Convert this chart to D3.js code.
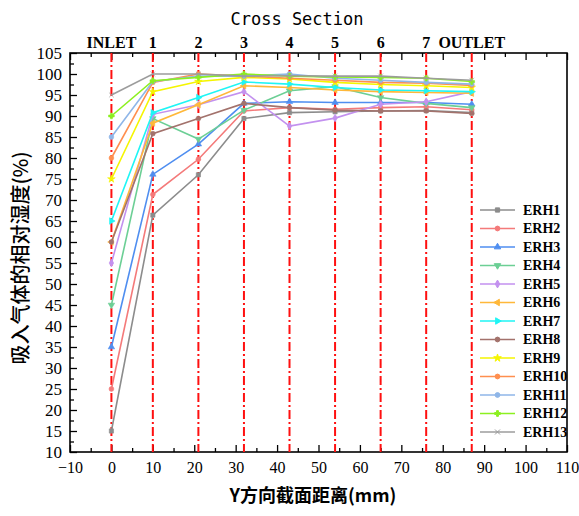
<!DOCTYPE html>
<html>
<head>
<meta charset="utf-8">
<script src="https://cdn.jsdelivr.net/npm/d3@7"></script>
<style>
  body { margin: 0; background: #fff; }
  svg { display: block; }
</style>
</head>
<body>
<div id="chart"></div>
<script>
// section positions along Y (mm) and their names
const sections = [0, 10, 21, 32, 43, 54, 65, 76, 87];
const sectionLabels = ['INLET', '1', '2', '3', '4', '5', '6', '7', 'OUTLET'];

const seriesNames = ['ERH1', 'ERH2', 'ERH3', 'ERH4', 'ERH5', 'ERH6', 'ERH7',
  'ERH8', 'ERH9', 'ERH10', 'ERH11', 'ERH12', 'ERH13'];

const erh1 = [15, 66.4, 76, 89.4, 90.8, 91, 91.2, 91.3, 90.8];
const erh2 = [25, 71.3, 79.7, 91.2, 92, 91.6, 92, 92.2, 91.5];
const erh3 = [35, 76.1, 83.3, 93, 93.4, 93.2, 93.2, 93.2, 92.8];
const erh4 = [45, 89.4, 84.5, 91.4, 96, 97, 94.4, 93, 92];
const erh5 = [55, 90.4, 92.7, 95.8, 87.6, 89.5, 92.8, 93.4, 95.8];
const erh6 = [60, 88.3, 92.7, 97.2, 96.8, 96.2, 95.8, 95.6, 95.4];
const erh7 = [65, 90.8, 94.4, 98.1, 97.6, 96.8, 96.2, 96, 95.8];
const erh8 = [60, 85.8, 89.4, 93, 92, 91.4, 91.2, 91.2, 90.6];
const erh9 = [75, 95.8, 98.2, 99.2, 98.8, 98, 97.5, 97.2, 96.8];
const erh10 = [80, 98, 100, 99.5, 99, 98.5, 98, 97.8, 97.3];
const erh11 = [85, 98.2, 99.5, 99.5, 100, 99, 98.5, 98, 97.6];
const erh12 = [90, 98.4, 99.2, 100, 99.5, 99.3, 99.2, 99, 98.2];
const erh13 = [95, 100, 100, 99.5, 99.6, 99.5, 99.5, 99, 98.5];

const seriesValues = [erh1, erh2, erh3, erh4, erh5, erh6, erh7, erh8, erh9,
  erh10, erh11, erh12, erh13];

const xTicks = [-10, 0, 10, 20, 30, 40, 50, 60, 70, 80, 90, 100, 110];
const yTicks = [10, 15, 20, 25, 30, 35, 40, 45, 50, 55, 60, 65, 70, 75, 80,
  85, 90, 95, 100, 105];

const colors = ['#8c8c8c', '#f47a7a', '#4f8ef0', '#6ccf95', '#c391ef', '#ffb83a',
  '#1ff5f5', '#a3726c', '#f5f500', '#ff8f4f', '#8fb6e8', '#8cf020', '#9c9c9c'];

const symTimes = d3.symbolTimes || d3.symbolX || d3.symbolCross;
const shapes = [
  {type: d3.symbolSquare, rot: 0},
  {type: d3.symbolCircle, rot: 0},
  {type: d3.symbolTriangle, rot: 0},
  {type: d3.symbolTriangle, rot: 180},
  {type: d3.symbolDiamond, rot: 0},
  {type: d3.symbolTriangle, rot: -90},
  {type: d3.symbolTriangle, rot: 90},
  {type: d3.symbolCircle, rot: 0},
  {type: d3.symbolStar, rot: 0},
  {type: d3.symbolCircle, rot: 0},
  {type: d3.symbolCircle, rot: 0},
  {type: d3.symbolCross, rot: 0},
  {type: symTimes, rot: 0}
];

const W = 579, H = 516;
const plotLeft = 70, plotRight = 567, plotTop = 53, plotBottom = 452;

const svg = d3.select('#chart').append('svg')
  .attr('width', W)
  .attr('height', H);

svg.append('rect').attr('width', W).attr('height', H).attr('fill', '#fff');

const x = d3.scaleLinear().domain([-10, 110]).range([plotLeft, plotRight]);
const y = d3.scaleLinear().domain([10, 105]).range([plotBottom, plotTop]);

const serif = '"Liberation Serif", "DejaVu Serif", serif';
const cjk = '"Noto Sans CJK SC", sans-serif';

// axes, ticks point inward
const minorX = d3.range(-5, 110, 10);
const minorY = d3.range(12.5, 105, 5);

const xBottom = svg.append('g')
  .attr('transform', 'translate(0,' + plotBottom + ')')
  .call(d3.axisBottom(x).tickValues(xTicks).tickSizeInner(-7).tickSizeOuter(0)
    .tickPadding(10).tickFormat(d => d < 0 ? '\u221210' : d));
xBottom.selectAll('text').attr('font-family', serif).attr('font-size', 16).attr('fill', '#000');

svg.append('g')
  .attr('transform', 'translate(0,' + plotBottom + ')')
  .call(d3.axisBottom(x).tickValues(minorX).tickSizeInner(-4).tickSizeOuter(0).tickFormat(''));

svg.append('g')
  .attr('transform', 'translate(0,' + plotTop + ')')
  .call(d3.axisTop(x).tickValues(xTicks).tickSizeInner(-7).tickSizeOuter(0).tickFormat(''));
svg.append('g')
  .attr('transform', 'translate(0,' + plotTop + ')')
  .call(d3.axisTop(x).tickValues(minorX).tickSizeInner(-4).tickSizeOuter(0).tickFormat(''));

const yLeft = svg.append('g')
  .attr('transform', 'translate(' + plotLeft + ',0)')
  .call(d3.axisLeft(y).tickValues(yTicks).tickSizeInner(-7).tickSizeOuter(0).tickPadding(8));
yLeft.selectAll('text').attr('font-family', serif).attr('font-size', 17).attr('fill', '#000');
svg.append('g')
  .attr('transform', 'translate(' + plotLeft + ',0)')
  .call(d3.axisLeft(y).tickValues(minorY).tickSizeInner(-4).tickSizeOuter(0).tickFormat(''));

svg.selectAll('.domain').remove();
svg.selectAll('.tick line').attr('stroke', '#000').attr('stroke-width', 1.3);

svg.append('rect')
  .attr('x', plotLeft).attr('y', plotTop)
  .attr('width', plotRight - plotLeft).attr('height', plotBottom - plotTop)
  .attr('fill', 'none').attr('stroke', '#000').attr('stroke-width', 1.6);

// section marker lines
svg.append('g').selectAll('line')
  .data(sections)
  .join('line')
  .attr('x1', d => x(d)).attr('x2', d => x(d))
  .attr('y1', plotTop).attr('y2', plotBottom)
  .attr('stroke', '#ff1010')
  .attr('stroke-width', 2)
  .attr('stroke-dasharray', '9,3,2,3');

// section names above the plot
svg.append('g').selectAll('text')
  .data(sections)
  .join('text')
  .attr('x', d => x(d))
  .attr('y', plotTop - 5)
  .attr('text-anchor', 'middle')
  .attr('font-family', serif)
  .attr('font-weight', 'bold')
  .attr('font-size', 16)
  .text((d, i) => sectionLabels[i]);

svg.append('text')
  .attr('x', 297).attr('y', 25)
  .attr('text-anchor', 'middle')
  .attr('font-family', '"DejaVu Sans Mono", monospace')
  .attr('font-size', 17)
  .text('Cross Section');

// series
const line = d3.line()
  .x((d, i) => x(sections[i]))
  .y(d => y(d));

const series = svg.append('g').selectAll('g')
  .data(seriesValues)
  .join('g');

series.append('path')
  .attr('d', d => line(d))
  .attr('fill', 'none')
  .attr('stroke', (d, i) => colors[i])
  .attr('stroke-width', 1.6);

series.each(function(vals, i) {
  const sym = d3.symbol().type(shapes[i].type).size(18);
  d3.select(this).selectAll('path.mark')
    .data(vals)
    .join('path')
    .attr('class', 'mark')
    .attr('d', sym)
    .attr('transform', (d, j) => 'translate(' + x(sections[j]) + ',' + y(d) + ') rotate(' + shapes[i].rot + ')')
    .attr('fill', colors[i])
    .attr('stroke', colors[i])
    .attr('stroke-width', 0.6);
});

// legend
const legend = svg.append('g')
  .attr('transform', 'translate(480,210)');

const items = legend.selectAll('g')
  .data(seriesNames)
  .join('g')
  .attr('transform', (d, i) => 'translate(0,' + i * 18.5 + ')');

items.append('line')
  .attr('x1', 0).attr('x2', 35)
  .attr('stroke', (d, i) => colors[i])
  .attr('stroke-width', 1.6);

items.append('path')
  .attr('d', (d, i) => d3.symbol().type(shapes[i].type).size(18)())
  .attr('transform', (d, i) => 'translate(17.5,0) rotate(' + shapes[i].rot + ')')
  .attr('fill', (d, i) => colors[i])
  .attr('stroke', (d, i) => colors[i]);

items.append('text')
  .attr('x', 43)
  .attr('dy', '0.35em')
  .attr('font-family', serif)
  .attr('font-weight', 'bold')
  .attr('font-size', 14)
  .text(d => d);

// axis titles
svg.append('text')
  .attr('x', 313).attr('y', 502)
  .attr('text-anchor', 'middle')
  .attr('font-family', cjk)
  .attr('font-weight', 'bold')
  .attr('font-size', 18)
  .text('Y方向截面距离(mm)');

svg.append('text')
  .attr('transform', 'translate(28,258) rotate(-90)')
  .attr('text-anchor', 'middle')
  .attr('font-family', cjk)
  .attr('font-weight', 500)
  .attr('font-size', 20)
  .text('吸入气体的相对湿度(%)');
</script>
</body>
</html>
